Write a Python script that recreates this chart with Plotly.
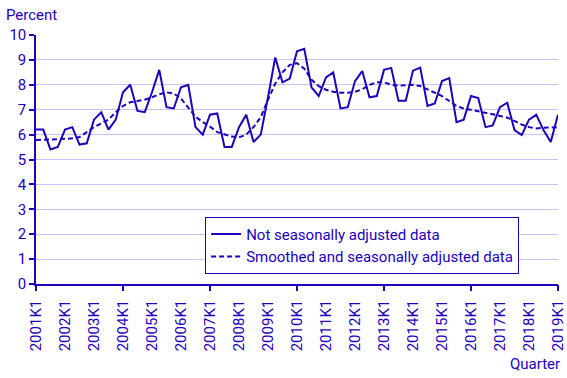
import plotly.graph_objects as go

years = list(range(2001, 2020))
quarters = [f"{y}K{q}" for y in range(2001, 2019) for q in (1, 2, 3, 4)] + ["2019K1"]
year_ticks = [f"{y}K1" for y in years]
major_ticks = ["2001K1", "2004K1", "2007K1", "2010K1", "2013K1", "2016K1", "2019K1"]

not_adjusted = [
    6.2, 6.2, 5.4, 5.5,
    6.2, 6.3, 5.6, 5.65,
    6.6, 6.9, 6.2, 6.6,
    7.7, 8.0, 6.95, 6.9,
    7.7, 8.6, 7.1, 7.05,
    7.9, 8.0, 6.3, 6.0,
    6.8, 6.85, 5.5, 5.5,
    6.3, 6.8, 5.7, 6.0,
    7.5, 9.1, 8.1, 8.25,
    9.35, 9.45, 7.9, 7.55,
    8.3, 8.5, 7.05, 7.1,
    8.15, 8.55, 7.5, 7.55,
    8.6, 8.68, 7.36, 7.36,
    8.57, 8.69, 7.15, 7.25,
    8.15, 8.27, 6.5, 6.6,
    7.55, 7.47, 6.3, 6.37,
    7.1, 7.28, 6.18, 5.98,
    6.6, 6.8, 6.18, 5.7,
    6.8,
]

smoothed = [
    5.78, 5.8, 5.8, 5.82,
    5.83, 5.85, 5.9, 6.1,
    6.3, 6.45, 6.6, 6.9,
    7.15, 7.3, 7.35, 7.4,
    7.5, 7.62, 7.7, 7.65,
    7.45, 7.1, 6.72, 6.5,
    6.32, 6.1, 6.0, 5.92,
    5.89, 6.0, 6.3, 6.7,
    7.4, 8.05, 8.5, 8.8,
    8.87, 8.65, 8.2, 7.95,
    7.8, 7.72, 7.68, 7.68,
    7.72, 7.82, 8.0, 8.1,
    8.1, 8.0, 7.97, 7.98,
    8.0, 7.95, 7.82, 7.7,
    7.55, 7.35, 7.15, 7.05,
    7.0, 6.95, 6.9, 6.82,
    6.75, 6.68, 6.55, 6.4,
    6.3, 6.25, 6.27, 6.3,
    6.3,
]

BLUE = "#1E00BE"
GRID = "#C8C3F0"
FONT = "Roboto"

fig = go.Figure()
fig.add_trace(go.Scatter(
    x=quarters, y=not_adjusted, mode="lines",
    name="Not seasonally adjusted data",
    line=dict(color=BLUE, width=2),
))
fig.add_trace(go.Scatter(
    x=quarters, y=smoothed, mode="lines",
    name="Smoothed and seasonally adjusted data",
    line=dict(color=BLUE, width=2, dash="5px,3px"),
    xaxis="x2",
))

fig.update_layout(
    width=567, height=378,
    margin=dict(l=36, r=9, t=35, b=94, autoexpand=False),
    paper_bgcolor="white", plot_bgcolor="white",
    font=dict(family=FONT, color=BLUE, size=15),
    showlegend=True,
    legend=dict(
        x=0.324, y=0.27, xanchor="left", yanchor="top",
        bordercolor=BLUE, borderwidth=1, bgcolor="white",
        font=dict(size=15, color=BLUE, family=FONT),
        tracegroupgap=0, itemwidth=30,
    ),
    xaxis=dict(
        type="category", categoryorder="array", categoryarray=quarters,
        range=[0, len(quarters) - 1], automargin=False,
        tickmode="array", tickvals=year_ticks, ticktext=year_ticks,
        tickangle=-90, ticks="outside", ticklen=8, tickcolor="rgba(0,0,0,0)",
        showgrid=False, showline=True, linecolor=BLUE, linewidth=1.5,
        tickfont=dict(size=15, color=BLUE, family=FONT),
        zeroline=False,
    ),
    xaxis2=dict(
        type="category", categoryorder="array", categoryarray=quarters,
        range=[0, len(quarters) - 1], automargin=False,
        overlaying="x", anchor="y", side="bottom",
        tickmode="array", tickvals=major_ticks, showticklabels=False,
        ticks="outside", ticklen=6, tickcolor=BLUE, tickwidth=1.5,
        showgrid=False, showline=False, zeroline=False,
    ),
    yaxis=dict(
        range=[0, 10], tickmode="array", tickvals=list(range(0, 11)),
        automargin=False,
        ticks="outside", ticklen=5, tickcolor=BLUE, tickwidth=1.5,
        showline=True, linecolor=BLUE, linewidth=1.5,
        showgrid=True, gridcolor=GRID, gridwidth=1,
        zeroline=False,
        tickfont=dict(size=15, color=BLUE, family=FONT),
    ),
    annotations=[
        dict(text="Percent", x=0, y=1, xref="paper", yref="paper",
             xshift=-32, yshift=9, xanchor="left", yanchor="bottom",
             showarrow=False, font=dict(size=15, color=BLUE, family=FONT)),
        dict(text="Quarter", x=1, y=0, xref="paper", yref="paper",
             xshift=4, yshift=-91, xanchor="right", yanchor="bottom",
             showarrow=False, font=dict(size=15, color=BLUE, family=FONT)),
    ],
)

fig.write_html(
    "out.html",
    config={"displayModeBar": False},
    post_script="document.body.style.margin='0';document.body.style.padding='0';",
)
